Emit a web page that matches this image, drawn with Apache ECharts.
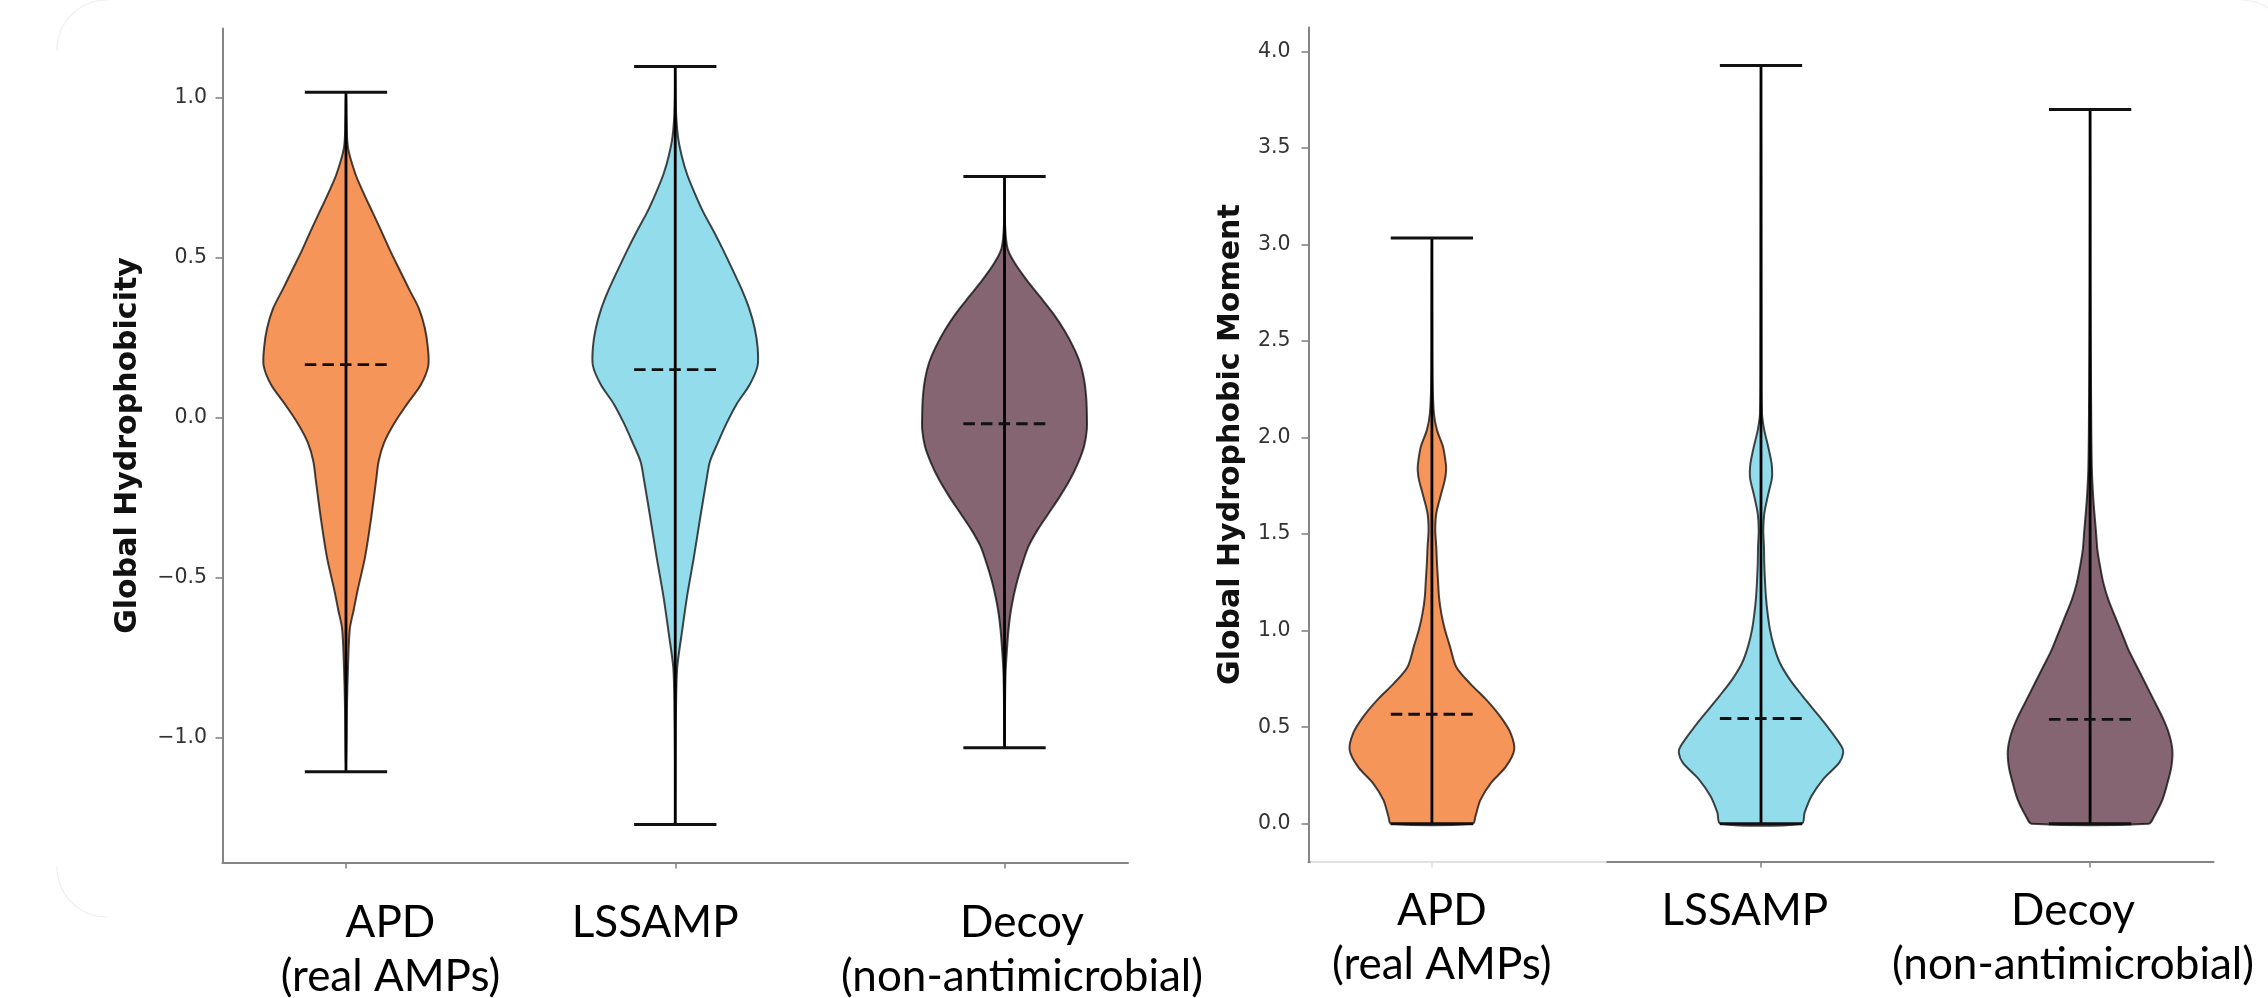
<!DOCTYPE html>
<html>
<head>
<meta charset="utf-8">
<script src="https://cdn.jsdelivr.net/npm/echarts@6/dist/echarts.min.js"></script>
<style>html,body{margin:0;padding:0;background:#fff;}#c{width:2268px;height:998px;}</style>
</head>
<body>
<div id="c"></div>
<script>
// ---------------- DATA ----------------
const categories = ['APD\n(real AMPs)', 'LSSAMP', 'Decoy\n(non-antimicrobial)'];
const positions = [1, 2, 3];
const hydroTicks = [-1.0, -0.5, 0.0, 0.5, 1.0];
const momentTicks = [0.0, 0.5, 1.0, 1.5, 2.0, 2.5, 3.0, 3.5, 4.0];

// Global Hydrophobicity: extrema and dashed centre line
const hydroMin = [-1.106, -1.271, -1.031];
const hydroMax = [1.018, 1.099, 0.755];
const hydroMean = [0.167, 0.151, -0.018];

// density profiles (value levels, relative widths)
const hydroAPD_y = [-1.106, -0.90, -0.78, -0.66, -0.60, -0.54, -0.435, -0.315, -0.196, -0.136, -0.077, -0.017, 0.044, 0.104, 0.163, 0.222, 0.282, 0.342, 0.402, 0.462, 0.523, 0.582, 0.641, 0.70, 0.761, 0.845, 0.93, 1.018];
const hydroAPD_w = [0, 1, 2, 3.8, 7.7, 11.5, 19, 25, 30, 32.5, 38, 48, 61, 74.6, 82, 81.5, 78.5, 72.7, 63, 53.6, 44, 35.6, 26.8, 18, 9.6, 2, 0.6, 0];
const hydroLSS_y = [-1.271, -1.05, -0.90, -0.78, -0.675, -0.556, -0.435, -0.315, -0.196, -0.136, -0.077, -0.017, 0.044, 0.104, 0.163, 0.222, 0.282, 0.342, 0.402, 0.462, 0.523, 0.582, 0.641, 0.70, 0.761, 0.82, 0.88, 0.97, 1.099];
const hydroLSS_w = [0, 0.3, 0.8, 2, 6.5, 12, 18.8, 25, 31.4, 35, 43, 51.7, 62, 75, 83, 83, 80, 74.6, 67, 58, 48.6, 39, 28.7, 20, 12, 6.5, 2.7, 0.6, 0];
const hydroDEC_y = [-1.031, -0.90, -0.80, -0.72, -0.66, -0.608, -0.557, -0.505, -0.453, -0.40, -0.349, -0.297, -0.245, -0.1925, -0.14, -0.088, -0.036, 0.016, 0.068, 0.12, 0.172, 0.224, 0.276, 0.328, 0.38, 0.4325, 0.485, 0.53, 0.60, 0.755];
const hydroDEC_w = [0, 0.5, 1, 2.5, 4, 6, 9, 13, 18, 24, 33, 44, 55, 65, 73, 79, 81.7, 81.7, 81, 79, 75, 68, 59, 48, 35, 21.7, 10, 3, 0.6, 0];

// Global Hydrophobic Moment
const momentMin = [0, 0, 0];
const momentMax = [3.034, 3.928, 3.70];
const momentMean = [0.567, 0.545, 0.54];

const momAPD_y = [0, 0.035, 0.122, 0.208, 0.294, 0.381, 0.467, 0.553, 0.640, 0.726, 0.812, 0.920, 1.007, 1.088, 1.174, 1.261, 1.347, 1.434, 1.52, 1.607, 1.693, 1.78, 1.832, 1.866, 1.952, 2.039, 2.125, 2.3, 2.6, 3.034];
const momAPD_w = [40.3, 42.7, 47.7, 57.7, 72.7, 81, 77.7, 67.7, 54, 37.7, 24, 17.7, 12.7, 9.3, 7, 6, 5, 4.3, 3.3, 4.3, 8.3, 12.7, 14, 13.7, 11, 5, 2, 0.6, 0.3, 0];
const momLSS_y = [0, 0.057, 0.143, 0.230, 0.316, 0.37, 0.402, 0.489, 0.575, 0.661, 0.748, 0.834, 0.920, 1.007, 1.088, 1.174, 1.261, 1.347, 1.434, 1.52, 1.607, 1.693, 1.78, 1.81, 1.866, 1.952, 2.039, 2.125, 2.4, 3.0, 3.928];
const momLSS_w = [41, 44, 51, 62.7, 79, 83, 81, 69, 55.7, 42, 29, 19, 13, 9, 6.7, 5, 4, 3.3, 3, 2.3, 3.3, 6.7, 10.7, 11.3, 10.7, 7.3, 3.3, 1, 0.5, 0.3, 0];
const momDEC_y = [0, 0.035, 0.122, 0.208, 0.294, 0.381, 0.467, 0.553, 0.640, 0.726, 0.812, 0.899, 0.985, 1.071, 1.158, 1.245, 1.331, 1.417, 1.504, 1.676, 1.849, 2.194, 2.8, 3.70];
const momDEC_w = [58.3, 63.3, 71.7, 76.7, 80.7, 81.7, 78.3, 71.7, 63.3, 55, 46.7, 38.3, 31.7, 25, 18.3, 13.3, 10, 7.3, 6, 3.3, 1.7, 1, 0.3, 0];

// ---------------- STYLE / LAYOUT ----------------
const fills = ['#F6955A', '#93DCEB', '#866573'];
const edge = 'rgba(0,0,0,0.72)';
const HALF_WIDTH = 0.25;   // violin half-width in x units (matplotlib widths=0.5)
const CAP_HALF = 0.125;    // extrema caps
const leftLabelAt = [1.135, 1.939, 3.053];
const rightLabelAt = [1.03, 1.951, 2.948];

function limits(lo, hi) { const m = (hi - lo) * 0.05; return [lo - m, hi + m]; }
const xLim = limits(Math.min(...positions) - HALF_WIDTH, Math.max(...positions) + HALF_WIDTH);
const hydroLim = limits(Math.min(...hydroMin), Math.max(...hydroMax));
const momLim = limits(Math.min(...momentMin), Math.max(...momentMax));

const hydroProfiles = [[hydroAPD_y, hydroAPD_w], [hydroLSS_y, hydroLSS_w], [hydroDEC_y, hydroDEC_w]];
const momProfiles = [[momAPD_y, momAPD_w], [momLSS_y, momLSS_w], [momDEC_y, momDEC_w]];

function makeRender(profiles) {
  return function (params, api) {
    const i = params.dataIndex;
    const pos = api.value(0), lo = api.value(1), hi = api.value(2), mean = api.value(3);
    const ys = profiles[i][0], ws = profiles[i][1];
    const wmax = Math.max(...ws);
    const pts = [];
    for (let k = 0; k < ys.length; k++) {
      pts.push(api.coord([pos + ws[k] / wmax * HALF_WIDTH, ys[k]]));
    }
    for (let k = ys.length - 1; k >= 0; k--) {
      if (ws[k] === 0) continue;
      pts.push(api.coord([pos - ws[k] / wmax * HALF_WIDTH, ys[k]]));
    }
    const pTop = api.coord([pos, hi]), pBot = api.coord([pos, lo]);
    const capTL = api.coord([pos - CAP_HALF, hi]), capTR = api.coord([pos + CAP_HALF, hi]);
    const capBL = api.coord([pos - CAP_HALF, lo]), capBR = api.coord([pos + CAP_HALF, lo]);
    const mL = api.coord([pos - CAP_HALF, mean]), mR = api.coord([pos + CAP_HALF, mean]);
    return {
      type: 'group',
      children: [
        { type: 'polygon', shape: { points: pts, smooth: 0.3 },
          style: { fill: fills[i], stroke: edge, lineWidth: 2 } },
        { type: 'line', shape: { x1: pBot[0], y1: pBot[1], x2: pTop[0], y2: pTop[1] },
          style: { stroke: '#000', lineWidth: 2.8 } },
        { type: 'line', shape: { x1: capTL[0], y1: capTL[1], x2: capTR[0], y2: capTR[1] },
          style: { stroke: '#111', lineWidth: 3 } },
        { type: 'line', shape: { x1: capBL[0], y1: capBL[1], x2: capBR[0], y2: capBR[1] },
          style: { stroke: '#111', lineWidth: 3 } },
        { type: 'line', shape: { x1: mL[0], y1: mL[1], x2: mR[0], y2: mR[1] },
          style: { stroke: '#111', lineWidth: 2.8, lineDash: [11.5, 6.1] } }
      ]
    };
  };
}

function violinData(mins, maxs, means) {
  return positions.map((p, i) => [p, mins[i], maxs[i], means[i]]);
}

const yFmt = v => (v < -1e-9 ? '\u2212' : '') + Math.abs(v).toFixed(1);
function catFmt(labelAt) {
  return v => {
    let best = 0;
    for (let i = 1; i < labelAt.length; i++) if (Math.abs(labelAt[i] - v) < Math.abs(labelAt[best] - v)) best = i;
    return categories[best];
  };
}

const axisGray = '#858585';
function xAxisCfg(grid, labelAt, margin) {
  return {
    gridIndex: grid, type: 'value', min: xLim[0], max: xLim[1], position: 'bottom',
    axisLine: { show: true, onZero: false, lineStyle: { color: axisGray, width: 2 } },
    axisTick: { show: true, customValues: positions, length: 6, lineStyle: { color: axisGray, width: 1.6 } },
    axisLabel: { show: true, customValues: labelAt, formatter: catFmt(labelAt), margin: margin,
      fontFamily: 'Lato', fontSize: 44, lineHeight: 54, color: '#000', align: 'center' },
    splitLine: { show: false }
  };
}
function yAxisCfg(grid, lim, ticks, name, nameGap, margin) {
  return {
    gridIndex: grid, type: 'value', min: lim[0], max: lim[1],
    name: name, nameLocation: 'middle', nameGap: nameGap,
    nameTextStyle: { fontFamily: 'DejaVu Sans', fontWeight: 'bold', fontSize: 30, color: '#111' },
    axisLine: { show: true, onZero: false, lineStyle: { color: axisGray, width: 2 } },
    axisTick: { show: true, customValues: ticks, length: 7, lineStyle: { color: axisGray, width: 1.6 } },
    axisLabel: { show: true, customValues: ticks, formatter: yFmt, margin: margin,
      fontFamily: 'DejaVu Sans', fontSize: 20.5, color: '#333' },
    splitLine: { show: false }
  };
}

const chart = echarts.init(document.getElementById('c'), null, { renderer: 'canvas' });
chart.setOption({
  animation: false,
  backgroundColor: '#ffffff',
  grid: [
    { left: 222.5, top: 28.5, width: 905.5, height: 834, containLabel: false, outerBoundsMode: 'none' },
    { left: 1308.5, top: 27.6, width: 905, height: 834, containLabel: false, outerBoundsMode: 'none' }
  ],
  xAxis: [ xAxisCfg(0, leftLabelAt, 33), xAxisCfg(1, rightLabelAt, 22) ],
  yAxis: [
    yAxisCfg(0, hydroLim, hydroTicks, 'Global Hydrophobicity', 79, 15.5),
    yAxisCfg(1, momLim, momentTicks, 'Global Hydrophobic Moment', 62, 18)
  ],
  series: [
    { type: 'custom', xAxisIndex: 0, yAxisIndex: 0, renderItem: makeRender(hydroProfiles),
      data: violinData(hydroMin, hydroMax, hydroMean), encode: { x: 0, y: [1, 2] }, clip: false, z: 3 },
    { type: 'custom', xAxisIndex: 1, yAxisIndex: 1, renderItem: makeRender(momProfiles),
      data: violinData(momentMin, momentMax, momentMean), encode: { x: 0, y: [1, 2] }, clip: false, z: 3 }
  ],
  graphic: [
    { type: 'rect', z: 50, shape: { x: 1310.5, y: 856, width: 296, height: 14 },
      style: { fill: 'rgba(255,255,255,0.75)' } },
    { type: 'arc', z: 1, shape: { cx: 107, cy: 50, r: 50, startAngle: Math.PI, endAngle: Math.PI * 1.5 },
      style: { stroke: '#efefef', lineWidth: 1.2, fill: null } },
    { type: 'arc', z: 1, shape: { cx: 107, cy: 867, r: 50, startAngle: Math.PI * 0.5, endAngle: Math.PI },
      style: { stroke: '#efefef', lineWidth: 1.2, fill: null } },
    { type: 'arc', z: 1, shape: { cx: 2241, cy: 50, r: 50, startAngle: -Math.PI * 0.5, endAngle: -Math.PI * 0.2 },
      style: { stroke: '#efefef', lineWidth: 1.2, fill: null } }
  ]
});
</script>
</body>
</html>
